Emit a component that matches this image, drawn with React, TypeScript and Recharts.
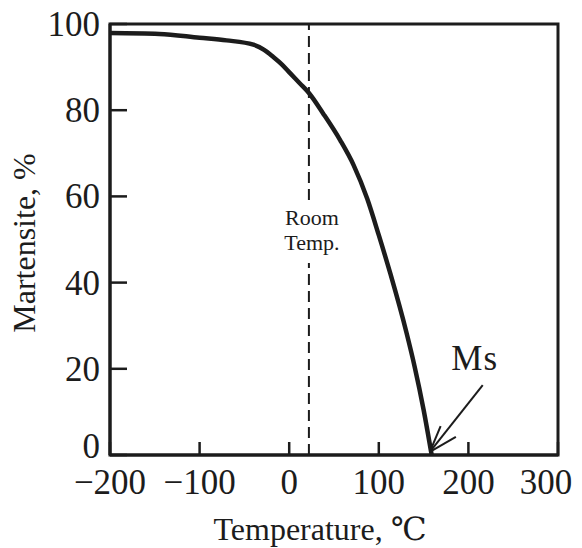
import React from 'react'
import {
  LineChart,
  Line,
  XAxis,
  YAxis,
  ReferenceLine,
  ReferenceArea,
  ReferenceDot,
} from 'recharts'

// Temperature (°C) vs. martensite fraction (%)
const temps = [-200, -145, -100, -70, -40, -28, -18, -8, 1, 12, 22, 38, 57, 72, 87, 100, 113, 131, 140, 150, 159]
const martensite = [97.9, 97.7, 96.8, 96.2, 95.2, 94.0, 92.4, 90.6, 88.6, 86.2, 84.0, 79.2, 73.0, 67.2, 59.5, 51.0, 42.0, 28.3, 20.5, 10.5, 0]

const xTicks = [-200, -100, 0, 100, 200, 300]
const yTicks = [0, 20, 40, 60, 80, 100]

const roomTemp = 22
// Ms arrow: tail, tip, and the two barbs of the head
const msArrowTail = { x: 216, y: 16.2 }
const msArrowTip = { x: 157, y: 0.7 }
const msBarbs = [
  { x: 169, y: 6.7 },
  { x: 186, y: 4.2 },
]
const msLabelAt = { x: 207, y: 19.7 }

const data = temps.map((t, i) => ({ temp: t, pct: martensite[i] }))

const INK = '#1c1c1c'
const FONT = '"Liberation Serif", "DejaVu Serif", serif'

const XTick = ({ x, y, payload }: any) => {
  const v = payload.value
  const label = v < 0 ? `\u2212${-v}` : `${v}`
  return (
    <text
      x={Math.min(x, 546)}
      y={y}
      dy={52}
      textAnchor="middle"
      fontSize={35}
      fontFamily={FONT}
      fill={INK}
    >
      {label}
    </text>
  )
}

const YTick = ({ x, y, payload }: any) => (
  // the 0 label sits a little above its tick, clear of the x labels
  <text
    x={x}
    y={y}
    dy={payload.value === 0 ? 3 : 12}
    textAnchor="end"
    fontSize={35}
    fontFamily={FONT}
    fill={INK}
  >
    {payload.value}
  </text>
)

const RoomTempLabel = ({ viewBox }: any) => {
  const cx = viewBox.x + 3
  const top = viewBox.y
  return (
    <g>
      <rect x={cx - 36} y={top + 179} width={72} height={60} fill="#fff" />
      <text x={cx} y={top + 201} textAnchor="middle" fontSize={22} fontFamily={FONT} fill={INK}>
        Room
      </text>
      <text x={cx} y={top + 226} textAnchor="middle" fontSize={22} fontFamily={FONT} fill={INK}>
        Temp.
      </text>
    </g>
  )
}

export default function App() {
  return (
    <div style={{ position: 'absolute', left: 0, top: 0, background: '#fff' }}>
      <LineChart
        width={582}
        height={548}
        data={data}
        margin={{ top: 24, right: 24, left: 0, bottom: 0 }}
      >
        <XAxis
          dataKey="temp"
          type="number"
          domain={[-200, 300]}
          ticks={xTicks}
          allowDataOverflow
          height={93}
          axisLine={{ stroke: INK, strokeWidth: 3 }}
          tickLine={{ stroke: INK, strokeWidth: 2.5 }}
          tickSize={-13}
          tickMargin={0}
          tick={<XTick />}
          label={{
            content: ({ viewBox }: any) => (
              <text
                x={viewBox.x + 210}
                y={viewBox.y + 85}
                textAnchor="middle"
                fontSize={32}
                fontFamily={FONT}
                fill={INK}
              >
                Temperature, ℃
              </text>
            ),
          }}
        />
        <YAxis
          type="number"
          domain={[0, 100]}
          ticks={yTicks}
          width={110}
          axisLine={{ stroke: INK, strokeWidth: 3 }}
          tickLine={{ stroke: INK, strokeWidth: 2.5 }}
          tickSize={-17}
          tickMargin={27}
          tick={<YTick />}
          label={{
            content: ({ viewBox }: any) => {
              const cx = viewBox.x + 24
              const cy = viewBox.y + 219
              return (
                <text
                  x={cx}
                  y={cy}
                  transform={`rotate(-90 ${cx} ${cy})`}
                  textAnchor="middle"
                  dominantBaseline="central"
                  fontSize={32}
                  fontFamily={FONT}
                  fill={INK}
                >
                  Martensite, %
                </text>
              )
            },
          }}
        />
        <ReferenceArea
          x1={-200}
          x2={300}
          y1={0}
          y2={100}
          fill="none"
          stroke={INK}
          strokeWidth={3}
        />
        <ReferenceLine
          x={roomTemp}
          stroke={INK}
          strokeWidth={2}
          strokeDasharray="11 6"
          label={<RoomTempLabel />}
        />
        <Line
          type="monotone"
          dataKey="pct"
          stroke={INK}
          strokeWidth={4.5}
          dot={false}
          isAnimationActive={false}
        />
        <ReferenceLine
          segment={[msArrowTail, msArrowTip]}
          stroke={INK}
          strokeWidth={2}
        />
        {msBarbs.map((b, i) => (
          <ReferenceLine
            key={i}
            segment={[b, msArrowTip]}
            stroke={INK}
            strokeWidth={2}
          />
        ))}
        <ReferenceDot
          x={msLabelAt.x}
          y={msLabelAt.y}
          r={0}
          fill="none"
          stroke="none"
          label={{
            content: ({ viewBox }: any) => (
              <text
                x={viewBox.x}
                y={viewBox.y}
                textAnchor="middle"
                fontSize={35}
                fontFamily={FONT}
                fill={INK}
                letterSpacing={1}
              >
                Ms
              </text>
            ),
          }}
        />
      </LineChart>
    </div>
  )
}
